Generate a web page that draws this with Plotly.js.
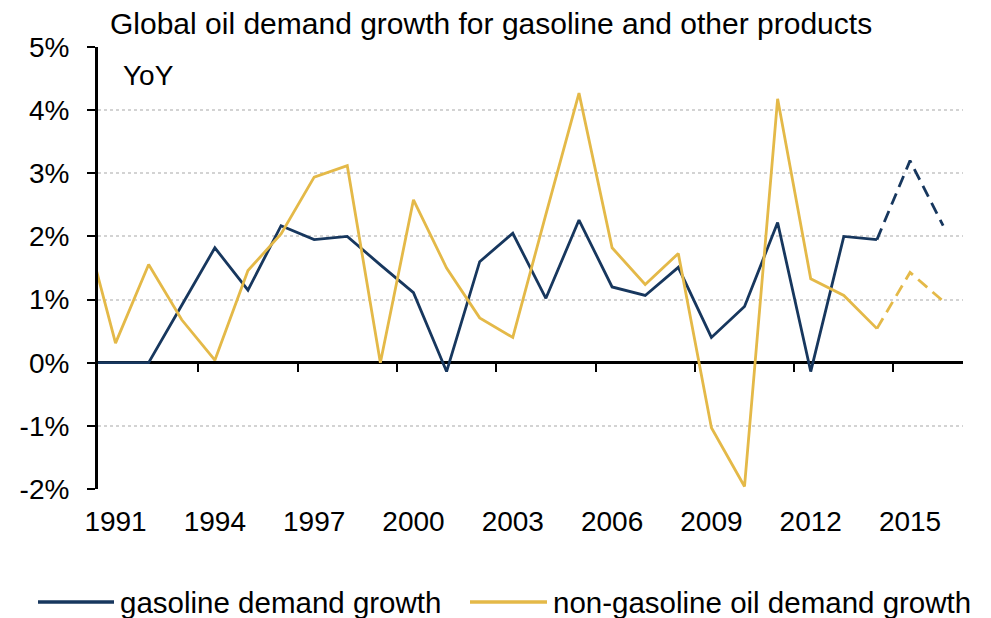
<!DOCTYPE html>
<html>
<head>
<meta charset="utf-8">
<script src="https://cdn.plot.ly/plotly-3.0.1.min.js"></script>
<style>html,body{margin:0;padding:0;background:#fff;}#chart{width:991px;height:618px;}</style>
</head>
<body>
<div id="chart"></div>
<script>
// Data (YoY %)
const years = [1990,1991,1992,1993,1994,1995,1996,1997,1998,1999,2000,2001,2002,2003,2004,2005,2006,2007,2008,2009,2010,2011,2012,2013,2014,2015,2016];
const gasoline = [0,0,0,0.91,1.82,1.15,2.17,1.95,2.0,1.55,1.11,-0.14,1.60,2.05,1.02,2.26,1.20,1.065,1.51,0.40,0.89,2.22,-0.14,2.00,1.95,3.20,2.17];
const nonGasoline = [2.3,0.31,1.555,0.68,0.04,1.46,2.04,2.94,3.12,0.0,2.58,1.50,0.71,0.40,2.35,4.27,1.82,1.24,1.73,-1.03,-1.96,4.18,1.33,1.065,0.54,1.43,0.975];
const lastActualYear = 2014;
const seriesNames = ['gasoline demand growth', 'non-gasoline oil demand growth'];
const xLabels = [1991,1994,1997,2000,2003,2006,2009,2012,2015];
const xTickMarks = [1993.5,1996.5,1999.5,2002.5,2005.5,2008.5,2011.5,2014.5];
const yTicks = [-2,-1,0,1,2,3,4,5];

const navy = '#17375E';
const gold = '#E4B948';
const colors = [navy, gold];
const font = 'Liberation Sans, Arial, sans-serif';

const W = 991, H = 618, ML = 98, MR = 28, MT = 47, MB = 129;
const PW = W - ML - MR, PH = H - MT - MB;
const px2x = px => (px - ML) / PW;
const py2y = py => (H - MB - py) / PH;

const cut = years.indexOf(lastActualYear);
const lw = 2.8;
const traces = [
  {x: years.slice(0, cut+1), y: gasoline.slice(0, cut+1), name: seriesNames[0], mode: 'lines', line: {color: navy, width: lw}},
  {x: years.slice(0, cut+1), y: nonGasoline.slice(0, cut+1), name: seriesNames[1], mode: 'lines', line: {color: gold, width: lw}},
  {x: years.slice(cut), y: gasoline.slice(cut), mode: 'lines', line: {color: navy, width: lw, dash: '12px,7px'}},
  {x: years.slice(cut), y: nonGasoline.slice(cut), mode: 'lines', line: {color: gold, width: lw, dash: '12px,7px'}}
];

// Legend drawn in layout (long sample lines like the reference)
const legendItems = [
  {lineFrom: 38, lineTo: 114, textX: 118},
  {lineFrom: 470, lineTo: 547, textX: 551}
];
const legendY = 602;
const shapes = legendItems.map((it, i) => ({
  type: 'line', xref: 'paper', yref: 'paper',
  x0: px2x(it.lineFrom), x1: px2x(it.lineTo), y0: py2y(legendY), y1: py2y(legendY),
  line: {color: colors[i], width: 3.5}
}));
const legendTexts = legendItems.map((it, i) => ({
  text: seriesNames[i], xref: 'paper', yref: 'paper', x: px2x(it.textX), y: py2y(legendY),
  xanchor: 'left', yanchor: 'middle', showarrow: false, font: {size: 29.5, family: font, color: '#000'}
}));

const layout = {
  width: W, height: H,
  margin: {l: ML, r: MR, t: MT, b: MB},
  paper_bgcolor: '#fff', plot_bgcolor: '#fff',
  font: {family: font, color: '#000', size: 28},
  showlegend: false,
  title: {text: 'Global oil demand growth for gasoline and other products', font: {family: font, size: 30, color: '#000'},
          xref: 'container', yref: 'container', x: 110/W, xanchor: 'left', y: 1 - 23/H, yanchor: 'middle'},
  xaxis: {
    type: 'linear', range: [1990.47, 2016.6], anchor: 'free', position: 2/7,
    showline: false, showgrid: false, zeroline: false,
    tickmode: 'array', tickvals: xLabels, ticktext: xLabels.map(String), ticks: '',
    ticklabelstandoff: 139, tickfont: {size: 28, family: font},
    minor: {tickmode: 'array', tickvals: xTickMarks, ticks: 'outside', ticklen: 8, tickwidth: 2, tickcolor: '#000', showgrid: false}
  },
  yaxis: {
    range: [-2, 5], tickmode: 'array', tickvals: yTicks, ticktext: yTicks.map(v => v + '%'),
    showline: true, linecolor: '#000', linewidth: 3,
    ticks: 'outside', ticklen: 8, tickwidth: 2, tickcolor: '#000', ticklabelstandoff: 12,
    showgrid: true, gridcolor: '#d3d3d3', gridwidth: 2, griddash: 'dot',
    zeroline: true, zerolinecolor: '#000', zerolinewidth: 3,
    tickfont: {size: 28, family: font}
  },
  shapes: shapes,
  annotations: [
    {text: 'YoY', xref: 'paper', yref: 'paper', x: px2x(121), y: py2y(75), xanchor: 'left', yanchor: 'middle', showarrow: false, font: {size: 28, family: font, color: '#000'}}
  ].concat(legendTexts)
};

Plotly.newPlot('chart', traces, layout, {displayModeBar: false, staticPlot: true});
</script>
</body>
</html>
